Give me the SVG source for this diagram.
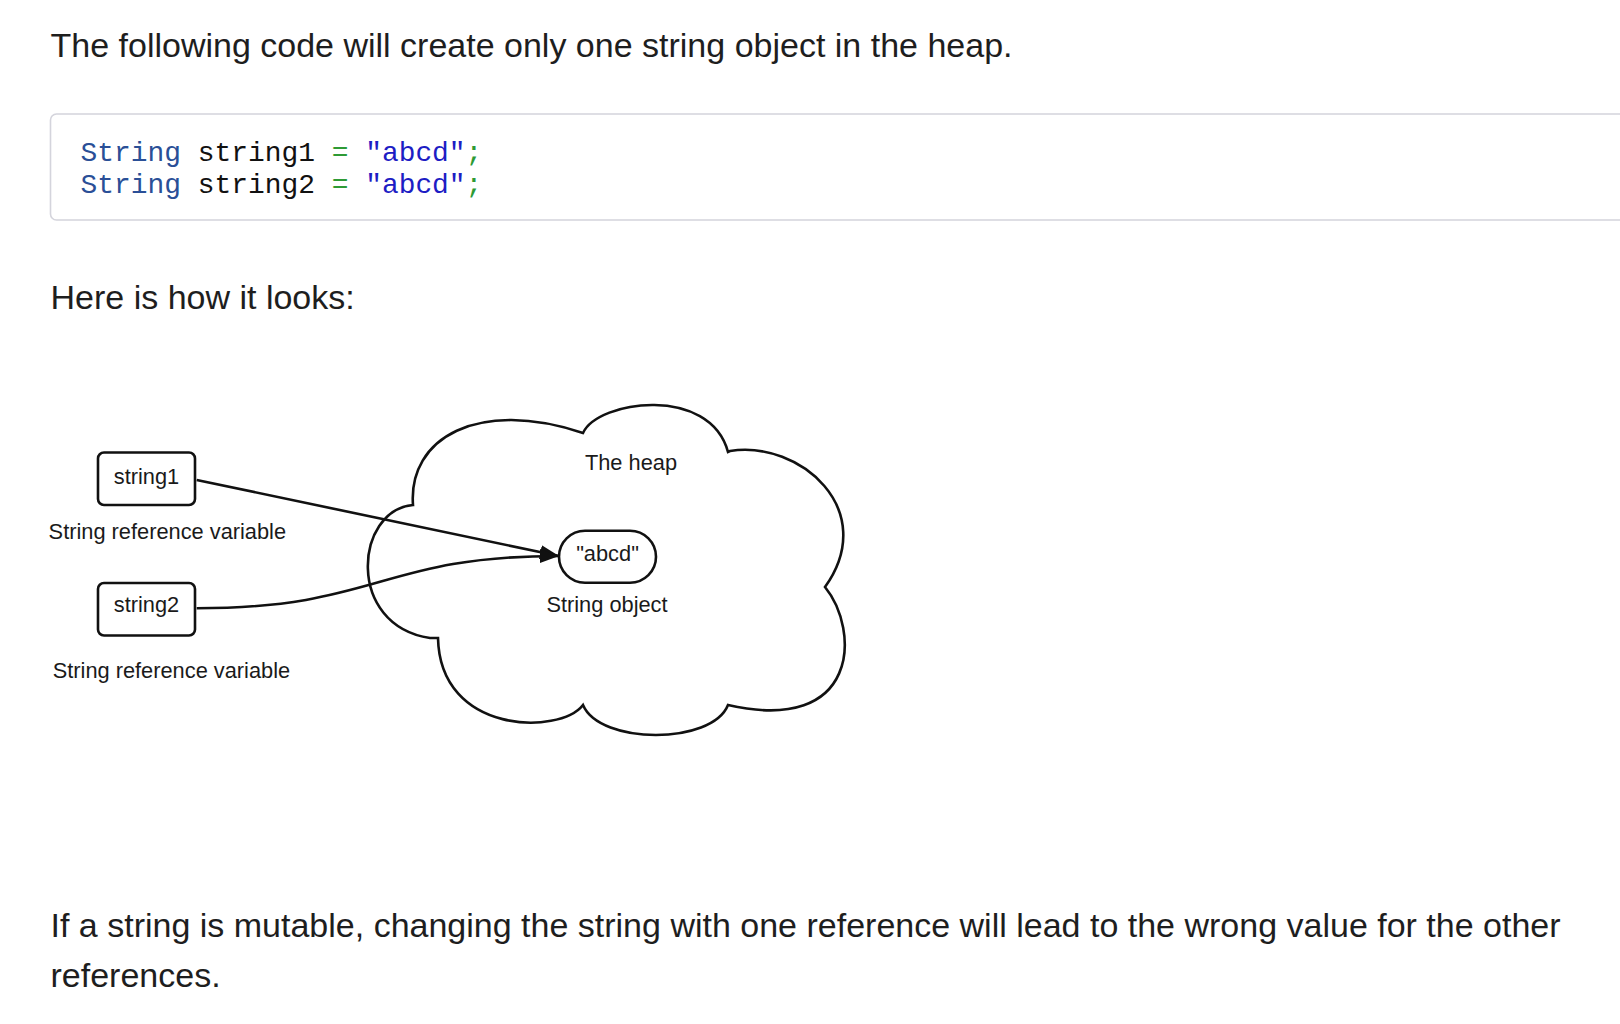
<svg xmlns="http://www.w3.org/2000/svg" width="1620" height="1024" viewBox="0 0 1620 1024">
  <defs>
    <style>
      .prose { font-family: "Liberation Sans", Arial, Helvetica, sans-serif; font-size: 34px; fill: #1e1e1e; }
      .code { font-family: "Liberation Mono", "Courier New", monospace; font-size: 27.9px; }
      .kw { fill: #2a4f97; }
      .id { fill: #111111; }
      .op { fill: #2e9a35; }
      .str { fill: #1d1dc4; }
      .label { font-family: "Liberation Sans", Arial, Helvetica, sans-serif; font-size: 21.8px; fill: #1a1a1a; }
      .shape { fill: #ffffff; stroke: #111111; stroke-width: 2.6; }
      .edge { fill: none; stroke: #111111; stroke-width: 2.6; }
    </style>
    <marker id="arrow" markerUnits="userSpaceOnUse" markerWidth="20" markerHeight="16" refX="19" refY="7" orient="auto">
      <path d="M0,0 L19,7 L0,14 z" fill="#111111"/>
    </marker>
  </defs>

  <rect x="0" y="0" width="1620" height="1024" fill="#ffffff"/>

  <text class="prose" x="50.5" y="57">The following code will create only one string object in the heap.</text>

  <g id="code-block">
    <rect x="50.5" y="114" width="1600" height="106" rx="6" fill="#ffffff" stroke="#d4d4dc" stroke-width="1.6"/>
    <text class="code" x="80.6" y="161" xml:space="preserve"><tspan class="kw">String</tspan><tspan class="id"> string1 </tspan><tspan class="op">=</tspan><tspan class="id"> </tspan><tspan class="str">"abcd"</tspan><tspan class="op">;</tspan></text>
    <text class="code" x="80.6" y="193" xml:space="preserve"><tspan class="kw">String</tspan><tspan class="id"> string2 </tspan><tspan class="op">=</tspan><tspan class="id"> </tspan><tspan class="str">"abcd"</tspan><tspan class="op">;</tspan></text>
  </g>

  <text class="prose" x="50.5" y="309">Here is how it looks:</text>

  <g id="heap">
    <path class="shape" d="M413,505 C408,438 478,398 583,433 C598,400 710,385 728,452 L730,451 C800,440 880,510 825,587 C860,630 860,735 728,705 C712,745 600,745 583,705 C560,735 440,735 438,638 L430,638 C345,625 355,510 413,505 Z"/>
    <text class="label" x="631" y="469.5" text-anchor="middle">The heap</text>
  </g>

  <g id="string1">
    <rect class="shape" x="98" y="452.5" width="97" height="52.5" rx="6"/>
    <text class="label" x="146.5" y="484" text-anchor="middle">string1</text>
    <text class="label" x="48.6" y="538.5">String reference variable</text>
  </g>

  <g id="string2">
    <rect class="shape" x="98" y="583" width="97" height="52.5" rx="6"/>
    <text class="label" x="146.5" y="612" text-anchor="middle">string2</text>
    <text class="label" x="52.7" y="678">String reference variable</text>
  </g>

  <g id="abcd">
    <rect class="shape" x="559" y="530.7" width="97" height="52" rx="26"/>
    <text class="label" x="607.5" y="561" text-anchor="middle">"abcd"</text>
    <text class="label" x="607" y="612" text-anchor="middle">String object</text>
  </g>

  <g id="connectors">
    <path class="edge" d="M196.7,480 L559,556" marker-end="url(#arrow)"/>
    <path class="edge" d="M196.7,608.3 C380,608 380,556 559,556" marker-end="url(#arrow)"/>
  </g>

  <text class="prose" x="50.5" y="936.5">If a string is mutable, changing the string with one reference will lead to the wrong value for the other</text>
  <text class="prose" x="50.5" y="987.3">references.</text>
</svg>
